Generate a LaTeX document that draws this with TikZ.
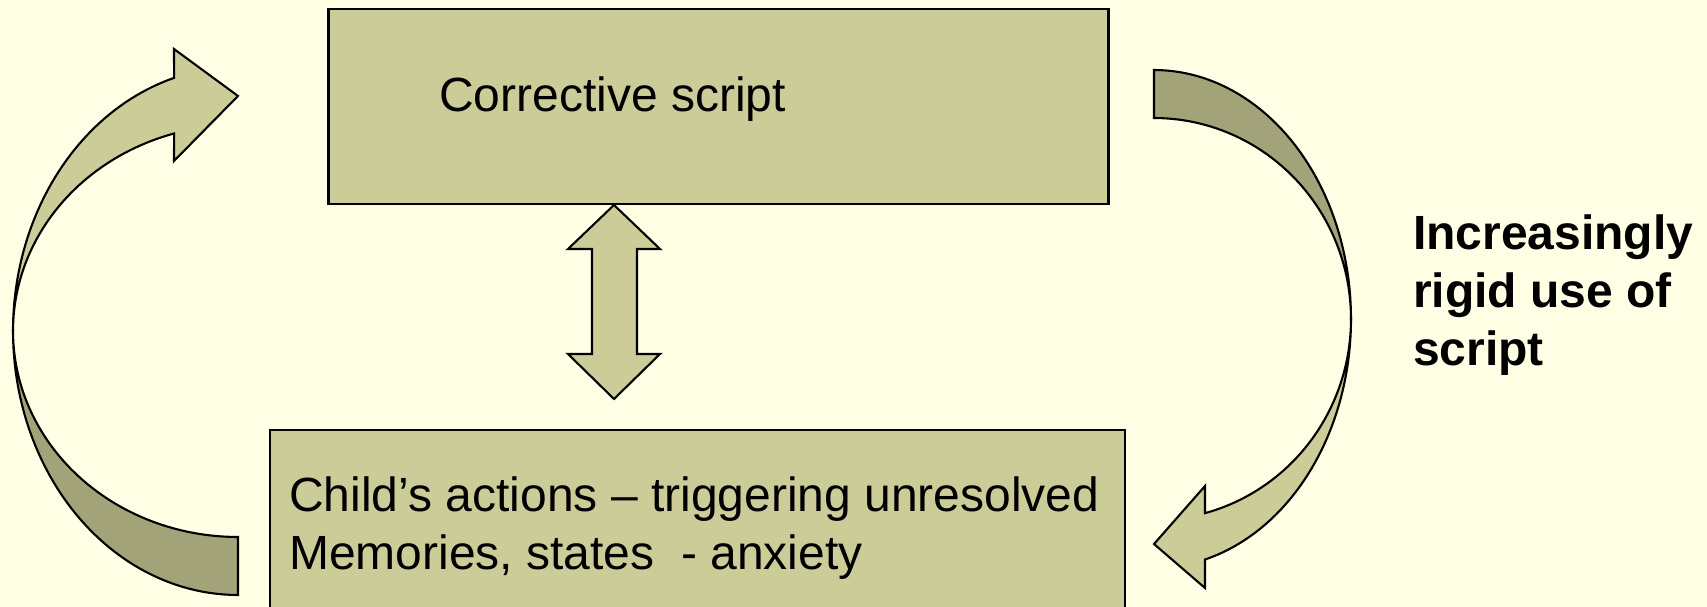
\documentclass[tikz,border=0pt]{standalone}
\usepackage{fontspec}
\setmainfont{Liberation Sans}
\definecolor{bgc}{RGB}{255,255,229}
\definecolor{fillc}{RGB}{204,204,153}
\definecolor{darkc}{RGB}{163,163,122}
\begin{document}
\begin{tikzpicture}[x=1pt,y=-1pt,
  box/.style={draw=black, line width=2.1pt, fill=fillc, inner sep=0pt},
  blockarrow/.style={draw=black, line width=2.1pt, line join=miter},
  lbl/.style={font=\fontsize{48}{58}\selectfont, inner sep=0pt, text=black}]
\useasboundingbox (0,0) rectangle (1707,607);
\fill[bgc] (0,0) rectangle (1707,607);
\clip (0,0) rectangle (1707,607);

% boxes
\node[box, minimum width=780pt, minimum height=195pt] (cs) at (718.5,106.5) {};
\node[box, minimum width=855pt, minimum height=200pt] (ca) at (697.5,530) {};

% texts
\node[lbl, anchor=base west] (cstext) at (439,112) {Corrective script};
\node[lbl, anchor=base west] (catext) at (289,511) {\begin{tabular}[t]{@{}l@{}}Child’s actions – triggering unresolved\\Memories, states~ - anxiety\end{tabular}};
\node[lbl, anchor=base west, font=\fontsize{48}{58}\selectfont\bfseries] (rigid) at (1413,249) {\begin{tabular}[t]{@{}l@{}}Increasingly\\rigid use of\\script\end{tabular}};

% double arrow between boxes
\coordinate (dtop) at (614,205);
\coordinate (dbot) at (614,399);
\filldraw[blockarrow, fill=fillc] (dtop) -- (660,249) -- (637,249) -- (637,354) -- (660,354) -- (dbot) -- (568,354) -- (592,354) -- (592,249) -- (568,249) -- cycle;

% left curved arrow (tail dark, head light)
\filldraw[blockarrow, fill=darkc] plot[domain=90:180, samples=50, variable=\t] ({238+225*cos(\t)},{331+264*sin(\t)}) -- plot[domain=180:90, samples=50, variable=\t] ({238+225*cos(\t)},{331+206*sin(\t)}) -- cycle;
\filldraw[blockarrow, fill=fillc] plot[domain=180:253.5, samples=50, variable=\t] ({238+225*cos(\t)},{331+264*sin(\t)}) -- (174,49) -- (238,96) -- (174,161) -- plot[domain=253.5:180, samples=50, variable=\t] ({238+225*cos(\t)},{331+206*sin(\t)}) -- cycle;

% right curved arrow (tail dark, head light)
\filldraw[blockarrow, fill=darkc] plot[domain=270:360, samples=50, variable=\t] ({1154+197*cos(\t)},{319+249*sin(\t)}) -- plot[domain=360:270, samples=50, variable=\t] ({1154+197*cos(\t)},{319+201*sin(\t)}) -- cycle;
\filldraw[blockarrow, fill=fillc] plot[domain=0:75, samples=50, variable=\t] ({1154+197*cos(\t)},{319+249*sin(\t)}) -- (1205,588) -- (1154,544) -- (1205,486) -- plot[domain=75:0, samples=50, variable=\t] ({1154+197*cos(\t)},{319+201*sin(\t)}) -- cycle;
\end{tikzpicture}
\end{document}
